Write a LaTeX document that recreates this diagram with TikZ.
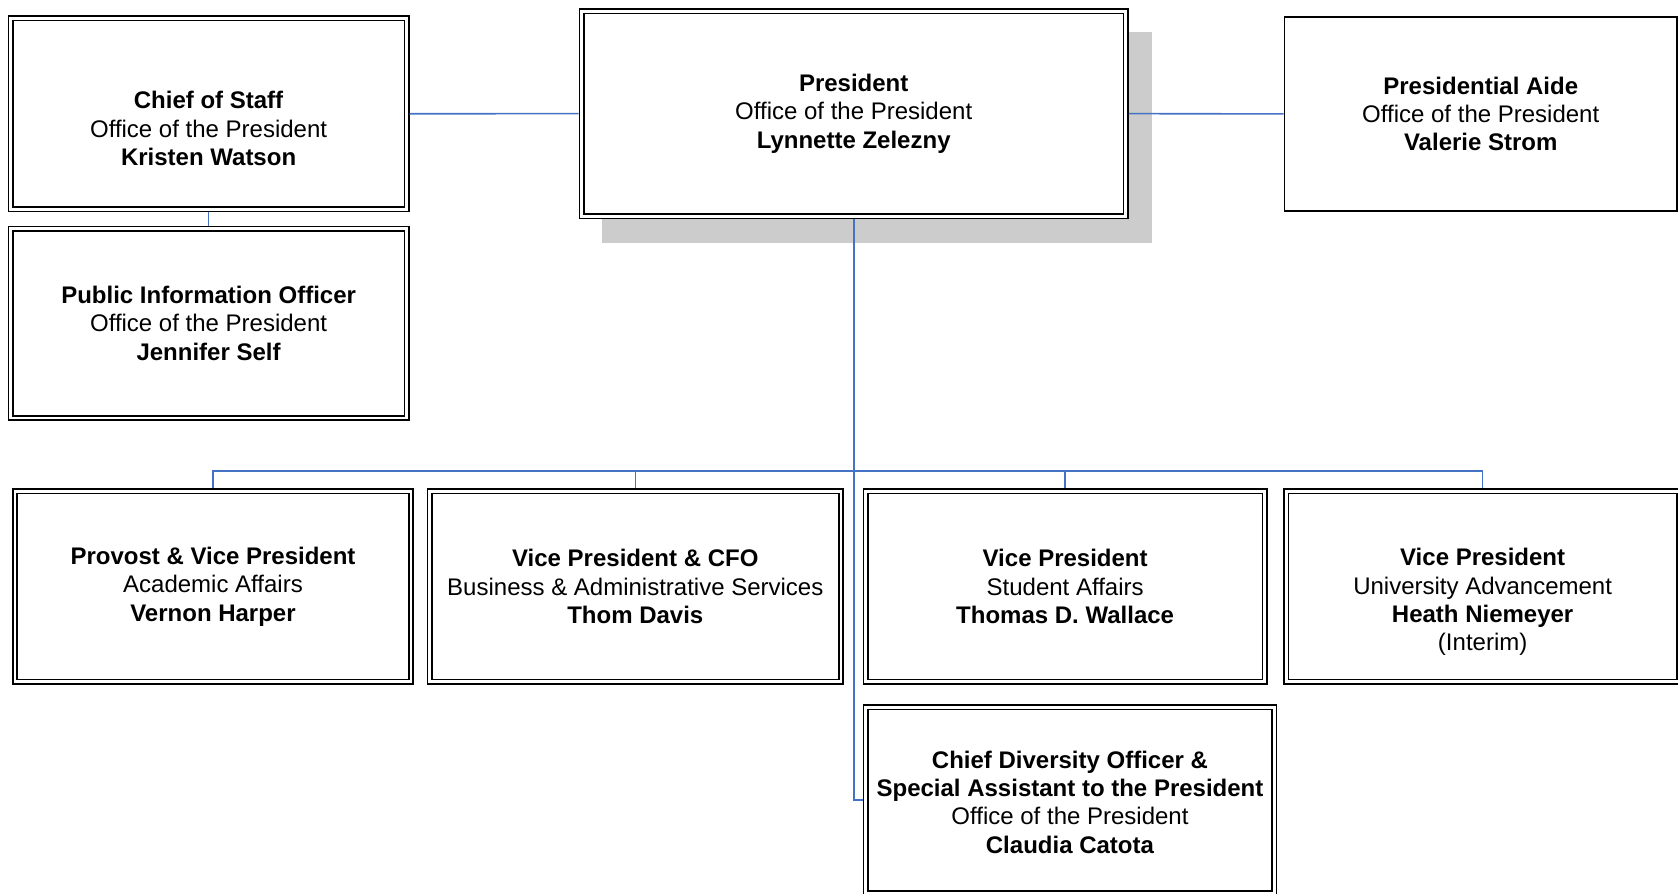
\documentclass[tikz,border=0pt]{standalone}
\usepackage{fontspec}
\setmainfont{Liberation Sans}
\usetikzlibrary{backgrounds}
\definecolor{linkblue}{RGB}{68,114,196}
\definecolor{shadowgray}{RGB}{204,204,204}

\begin{document}
\begin{tikzpicture}[x=0.5pt,y=-0.5pt,
        card/.style={draw,fill=white,line width=0.9pt,inner sep=0pt,align=center,font=\fontsize{12}{14.2}\selectfont},
        dcard/.style={card,double,line width=0.8pt,double distance=1.4pt,outer sep=1.5pt},
        link/.style={draw=linkblue,line width=0.8pt}]
    \useasboundingbox (0,0) rectangle (1678,894);
    \node[dcard,minimum width=198.1pt,minimum height=95.45pt] (chief) at (208.6,113.75) {\rule{0pt}{23.5pt}\textbf{Chief of Staff}\\Office of the President\\\textbf{Kristen Watson}};
    \node[dcard,minimum width=198.1pt,minimum height=94.65pt] (pio) at (208.6,323.35) {\textbf{Public Information Officer}\\Office of the President\\\textbf{Jennifer Self}};
    \node[dcard,minimum width=272.1pt,minimum height=102.55pt] (pres) at (853.7,113.65) {\textbf{President}\\Office of the President\\\textbf{Lynnette Zelezny}};
    \node[card,minimum width=196.25pt,minimum height=96.85pt] (aide) at (1480.75,113.9) {\textbf{Presidential Aide}\\Office of the President\\\textbf{Valerie Strom}};
    \node[dcard,minimum width=198pt,minimum height=95.25pt] (provost) at (213,586.45) {\textbf{Provost \& Vice President}\\Academic Affairs\\\textbf{Vernon Harper}};
    \node[dcard,minimum width=205.7pt,minimum height=95.25pt] (cfo) at (635.3,586.45) {\textbf{Vice President \& CFO}\\Business \& Administrative Services\\\textbf{Thom Davis}};
    \node[dcard,minimum width=199.55pt,minimum height=95.25pt] (student) at (1065.15,586.45) {\textbf{Vice President}\\Student Affairs\\\textbf{Thomas D. Wallace}};
    \node[dcard,minimum width=196.35pt,minimum height=95.25pt] (vpua) at (1482.65,586.45) {\rule{0pt}{24.3pt}\textbf{Vice President}\\University Advancement\\\textbf{Heath Niemeyer}\\(Interim)};
    \node[dcard,minimum width=204.4pt,minimum height=92.85pt] (claudia) at (1070,800.15) {\rule{0pt}{10.7pt}\textbf{Chief Diversity Officer \&}\\\textbf{Special Assistant to the President}\\Office of the President\\\textbf{Claudia Catota}};
    \begin{scope}[on background layer]
        \fill[shadowgray] ([shift={(23.5,23.5)}]pres.north west) rectangle ([shift={(23.5,23.5)}]pres.south east);
    \end{scope}
    \coordinate (bus) at (0,470.7);
    \draw[link] (chief.east) -- (pres.west);
    \draw[link] (chief.south) -- (pio.north);
    \draw[link] (pres.east) -- (aide.west);
    \draw[link] (pres.south) |- (claudia.west);
    \draw[link] (provost.north) |- (vpua.north |- bus) -- (vpua.north);
    \draw[link] (cfo.north) -- (cfo.north |- bus);
    \draw[link] (student.north) -- (student.north |- bus);
\end{tikzpicture}
\end{document}
